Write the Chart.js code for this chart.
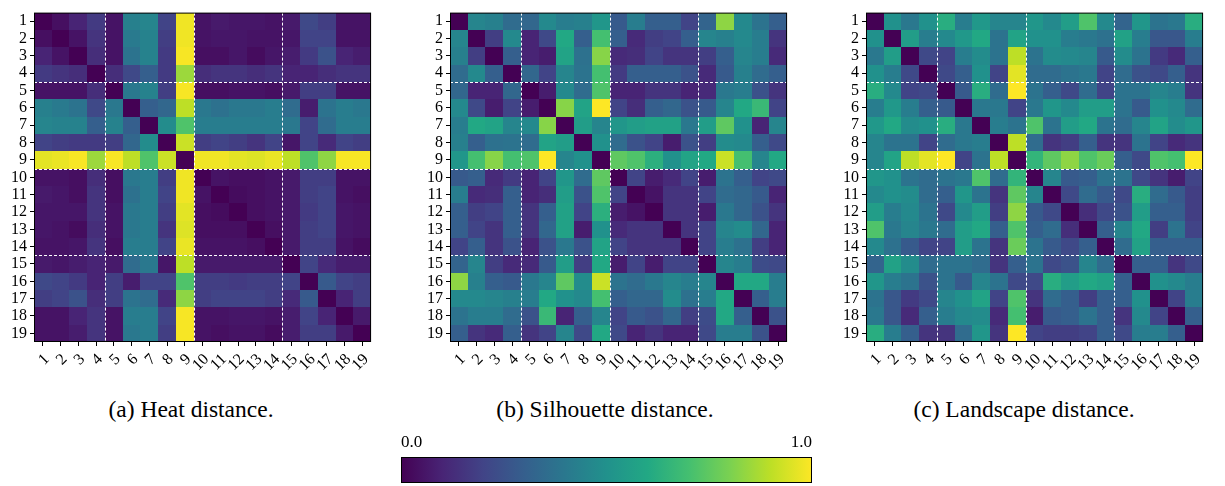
<!DOCTYPE html>
<html>
<head>
<meta charset="utf-8">
<script src="https://cdn.jsdelivr.net/npm/chart.js@4/dist/chart.umd.min.js"></script>
<style>
  html, body { margin: 0; padding: 0; background: #fff; }
  body { width: 1225px; height: 486px; position: relative; overflow: hidden; }
  canvas { position: absolute; }
  .cap { position: absolute; top: 397px; width: 300px; text-align: center;
         font: 23.5px/24px "Liberation Serif", "Times New Roman", serif; color: #000; }
</style>
</head>
<body>
<canvas id="heat" width="380" height="395" style="left:0;top:0"></canvas>
<canvas id="sil" width="380" height="395" style="left:416px;top:0"></canvas>
<canvas id="land" width="380" height="395" style="left:832px;top:0"></canvas>
<canvas id="cbar" width="422" height="56" style="left:396px;top:430px"></canvas>
<div class="cap" style="left:41px">(a) Heat distance.</div>
<div class="cap" style="left:455px">(b) Silhouette distance.</div>
<div class="cap" style="left:874px">(c) Landscape distance.</div>
<script>
// popisky os 1..19 (stejné pro řádky i sloupce)
const LABELS = ["1","2","3","4","5","6","7","8","9","10","11","12","13","14","15","16","17","18","19"];
// hranice skupin (bílé čárkované čáry)
const DIVIDERS = [4.5, 9.5, 14.5];
// colorbar
const CBAR_TICKS = [0, 1];
const CBAR_LABELS = ["0.0", "1.0"];
// viridis po 0.1
const VIRIDIS = ["#440154","#482475","#414487","#355f8d","#2a788e","#21918c",
                 "#22a884","#44bf70","#7ad151","#bddf26","#fde725"];

// (a) Heat distance
const HEAT = [
  [0,.04,.10,.17,.05,.43,.45,.20,.98,.05,.07,.06,.06,.05,.07,.22,.18,.05,.05],
  [.04,0,.05,.15,.05,.41,.44,.18,.98,.05,.06,.06,.05,.05,.06,.20,.20,.05,.05],
  [.10,.05,0,.13,.05,.38,.44,.17,.99,.04,.04,.06,.03,.06,.08,.17,.25,.10,.08],
  [.17,.15,.13,0,.13,.22,.30,.17,.85,.13,.15,.15,.13,.15,.10,.10,.13,.15,.15],
  [.05,.05,.05,.13,0,.40,.44,.18,.99,.04,.04,.05,.05,.04,.07,.18,.18,.05,.05],
  [.43,.41,.38,.22,.40,0,.30,.33,.90,.40,.37,.40,.40,.42,.35,.08,.38,.42,.40],
  [.45,.44,.44,.30,.44,.30,0,.48,.72,.42,.42,.42,.42,.42,.40,.20,.35,.42,.42],
  [.20,.18,.17,.17,.18,.33,.48,0,.92,.18,.20,.18,.15,.20,.06,.20,.12,.20,.18],
  [.96,.97,.99,.85,.99,.90,.72,.92,0,.98,.98,.96,.95,.97,.90,.72,.83,.99,.99],
  [.05,.05,.04,.13,.04,.40,.42,.18,.98,0,.05,.04,.04,.05,.07,.18,.18,.05,.05],
  [.07,.06,.04,.15,.04,.37,.42,.20,.98,.05,0,.03,.04,.05,.07,.18,.20,.05,.04],
  [.06,.06,.06,.15,.05,.40,.42,.18,.96,.04,.03,0,.04,.05,.07,.17,.20,.06,.05],
  [.06,.05,.03,.13,.05,.40,.42,.15,.95,.04,.04,.04,0,.04,.07,.18,.20,.06,.05],
  [.05,.05,.06,.15,.04,.42,.42,.20,.97,.05,.05,.05,.04,0,.07,.18,.18,.05,.03],
  [.07,.06,.08,.10,.07,.35,.40,.06,.90,.07,.07,.07,.07,.07,0,.20,.12,.08,.08],
  [.22,.20,.17,.10,.18,.08,.20,.20,.72,.18,.18,.17,.18,.18,.20,0,.28,.20,.18],
  [.18,.20,.25,.13,.18,.38,.35,.12,.83,.18,.20,.20,.20,.18,.12,.28,0,.10,.18],
  [.05,.05,.10,.15,.05,.42,.42,.20,.99,.05,.05,.06,.06,.05,.08,.20,.10,0,.07],
  [.05,.05,.08,.15,.05,.40,.42,.18,.99,.05,.04,.05,.05,.03,.08,.18,.18,.07,0],
];

// (b) Silhouette distance
const SILHOUETTE = [
  [0,.45,.43,.35,.33,.47,.42,.43,.52,.28,.42,.30,.30,.20,.32,.83,.47,.38,.30],
  [.45,0,.18,.47,.10,.22,.60,.30,.70,.30,.12,.18,.20,.30,.45,.43,.47,.42,.15],
  [.43,.18,0,.30,.10,.08,.58,.37,.82,.12,.13,.20,.15,.15,.18,.30,.45,.42,.12],
  [.35,.47,.30,0,.33,.20,.45,.38,.70,.17,.30,.30,.30,.25,.12,.28,.43,.35,.30],
  [.33,.10,.10,.33,0,.08,.47,.35,.72,.10,.10,.15,.15,.10,.12,.40,.42,.25,.15],
  [.47,.22,.08,.20,.08,0,.82,.58,1.0,.20,.13,.30,.33,.25,.28,.45,.60,.67,.20],
  [.42,.60,.58,.45,.47,.82,0,.55,.45,.52,.55,.57,.57,.40,.55,.75,.50,.10,.45],
  [.43,.30,.37,.38,.35,.58,.55,0,.50,.35,.25,.20,.08,.25,.18,.48,.47,.30,.22],
  [.52,.70,.82,.70,.72,1.0,.45,.50,0,.75,.72,.63,.50,.58,.60,.92,.70,.45,.60],
  [.28,.30,.12,.17,.10,.20,.52,.35,.75,0,.20,.08,.12,.20,.08,.38,.30,.20,.22],
  [.42,.12,.13,.30,.10,.13,.55,.25,.72,.20,0,.05,.15,.15,.20,.35,.33,.28,.10],
  [.30,.18,.20,.30,.15,.30,.57,.20,.63,.08,.05,0,.15,.15,.08,.40,.33,.25,.15],
  [.30,.20,.15,.30,.15,.33,.57,.08,.50,.12,.15,.15,0,.15,.20,.45,.48,.33,.10],
  [.20,.30,.15,.25,.10,.25,.40,.25,.58,.20,.15,.15,.15,0,.20,.42,.37,.18,.10],
  [.32,.45,.18,.12,.12,.28,.55,.18,.60,.08,.20,.08,.20,.20,0,.45,.42,.23,.22],
  [.83,.43,.30,.28,.40,.45,.75,.48,.92,.38,.35,.40,.45,.42,.45,0,.60,.60,.42],
  [.47,.47,.45,.43,.42,.60,.50,.47,.70,.30,.33,.33,.48,.37,.42,.60,0,.30,.42],
  [.38,.42,.42,.35,.25,.67,.10,.30,.45,.20,.28,.25,.33,.18,.23,.60,.30,0,.25],
  [.30,.15,.12,.30,.15,.20,.45,.22,.60,.22,.10,.15,.10,.10,.22,.42,.42,.25,0],
];

// (c) Landscape distance
const LANDSCAPE = [
  [0,.50,.40,.50,.62,.42,.53,.45,.45,.52,.47,.55,.72,.47,.32,.52,.38,.40,.62],
  [.50,0,.55,.42,.47,.53,.60,.38,.58,.50,.50,.42,.40,.37,.57,.42,.27,.27,.42],
  [.40,.55,0,.22,.20,.42,.48,.38,.90,.38,.48,.47,.45,.28,.48,.38,.17,.12,.30],
  [.50,.42,.22,0,.22,.30,.50,.20,.96,.35,.35,.38,.40,.20,.35,.25,.22,.30,.15],
  [.62,.47,.20,.22,0,.28,.62,.35,1.0,.38,.30,.22,.35,.20,.38,.38,.45,.42,.15],
  [.42,.53,.42,.30,.28,0,.40,.40,.20,.40,.52,.47,.55,.55,.38,.28,.50,.47,.35],
  [.53,.60,.48,.50,.62,.40,0,.42,.38,.72,.38,.55,.60,.38,.35,.45,.58,.48,.52],
  [.45,.38,.38,.20,.35,.40,.42,0,.90,.35,.15,.18,.30,.15,.15,.38,.20,.12,.15],
  [.45,.58,.90,.96,1.0,.20,.38,.90,0,.65,.75,.83,.72,.77,.30,.22,.72,.70,1.0],
  [.52,.50,.38,.35,.38,.40,.72,.35,.65,0,.45,.28,.30,.38,.38,.22,.15,.08,.20],
  [.47,.50,.48,.35,.30,.52,.38,.15,.75,.45,0,.22,.35,.28,.22,.62,.35,.28,.18],
  [.55,.42,.47,.38,.22,.47,.55,.18,.83,.28,.22,0,.13,.22,.25,.55,.30,.30,.18],
  [.72,.40,.45,.40,.35,.55,.60,.30,.72,.30,.35,.13,0,.30,.45,.60,.18,.38,.20],
  [.47,.37,.28,.20,.20,.55,.38,.15,.77,.38,.28,.22,.30,0,.35,.57,.30,.30,.30],
  [.32,.57,.48,.35,.38,.38,.35,.15,.30,.38,.22,.25,.45,.35,0,.30,.30,.15,.22],
  [.52,.42,.38,.25,.38,.28,.45,.38,.22,.22,.62,.55,.60,.57,.30,0,.50,.47,.42],
  [.38,.27,.17,.22,.45,.50,.58,.20,.72,.15,.35,.30,.18,.30,.30,.50,0,.20,.42],
  [.40,.27,.12,.30,.42,.47,.48,.12,.70,.08,.28,.30,.38,.30,.15,.47,.20,0,.30],
  [.62,.42,.30,.15,.15,.35,.52,.15,1.0,.20,.18,.18,.20,.30,.22,.42,.42,.30,0],
];

const SERIF = "'Liberation Serif', 'Times New Roman', serif";

// hodnota 0..1 -> barva viridis
function hexRgb(h) { return [1, 3, 5].map(i => parseInt(h.slice(i, i + 2), 16)); }
function viridis(t) {
  t = Math.min(1, Math.max(0, t)) * (VIRIDIS.length - 1);
  const i = Math.min(Math.floor(t), VIRIDIS.length - 2), f = t - i;
  const a = hexRgb(VIRIDIS[i]), b = hexRgb(VIRIDIS[i + 1]);
  return "rgb(" + a.map((v, k) => Math.round(v + (b[k] - v) * f)).join(",") + ")";
}

// buňky, čárkované čáry a rámeček — vše přes škály grafu
const heatPlugin = {
  id: "heatCells",
  beforeDatasetsDraw(chart) {
    const { ctx, chartArea: a, scales: { x, y } } = chart;
    ctx.save();
    chart.data.datasets[0].data.forEach(p => {
      const x0 = Math.round(x.getPixelForValue(p.x - 0.5)), x1 = Math.round(x.getPixelForValue(p.x + 0.5));
      const y0 = Math.round(y.getPixelForValue(p.y - 0.5)), y1 = Math.round(y.getPixelForValue(p.y + 0.5));
      ctx.fillStyle = viridis(p.v);
      ctx.fillRect(Math.min(x0, x1), Math.min(y0, y1), Math.abs(x1 - x0), Math.abs(y1 - y0));
    });
    ctx.strokeStyle = "#fff"; ctx.lineWidth = 1; ctx.setLineDash([3, 2]);
    DIVIDERS.forEach(d => {
      const px = Math.round(x.getPixelForValue(d)) + 0.5, py = Math.round(y.getPixelForValue(d)) + 0.5;
      ctx.beginPath(); ctx.moveTo(px, a.top); ctx.lineTo(px, a.bottom); ctx.stroke();
      ctx.beginPath(); ctx.moveTo(a.left, py); ctx.lineTo(a.right, py); ctx.stroke();
    });
    ctx.setLineDash([]);
    ctx.strokeStyle = "#000";
    ctx.strokeRect(a.left + 0.5, a.top + 0.5, a.right - a.left - 1, a.bottom - a.top - 1);
    ctx.restore();
  },
};

function osa(extra) {
  return Object.assign({
    type: "linear", min: 0.5, max: 19.5,
    afterBuildTicks: s => { s.ticks = LABELS.map((_, i) => ({ value: i + 1 })); },
    grid: { drawOnChartArea: false, drawTicks: true, tickLength: 4, color: "#000", lineWidth: 1 },
    border: { display: false },
  }, extra);
}

function heatmap(id, matrix) {
  const pts = [];
  matrix.forEach((row, r) => row.forEach((v, c) => pts.push({ x: c + 1, y: r + 1, v })));
  new Chart(document.getElementById(id), {
    type: "scatter",
    data: { datasets: [{ data: pts, pointRadius: 0, pointHoverRadius: 0 }] },
    options: {
      responsive: false, animation: false, events: [],
      layout: { padding: { top: 3, right: 8, left: 0, bottom: 0 } },
      plugins: { legend: { display: false }, tooltip: { enabled: false } },
      scales: {
        x: osa({
          afterFit: s => { s.height = 53; },
          ticks: { autoSkip: false, minRotation: 45, maxRotation: 45, labelOffset: 4, padding: 4,
                   color: "#000", font: { family: SERIF, size: 16 },
                   callback: (v, i) => LABELS[i] },
        }),
        y: osa({
          reverse: true,
          afterFit: s => { s.width = 34; },
          ticks: { autoSkip: false, padding: 3, color: "#000", font: { family: SERIF, size: 16 },
                   callback: (v, i) => LABELS[i] },
        }),
      },
    },
    plugins: [heatPlugin],
  });
}

heatmap("heat", HEAT);
heatmap("sil", SILHOUETTE);
heatmap("land", LANDSCAPE);

// colorbar
new Chart(document.getElementById("cbar"), {
  type: "scatter",
  data: { datasets: [{ data: [], pointRadius: 0 }] },
  options: {
    responsive: false, animation: false, events: [],
    layout: { padding: { top: 0, right: 6, left: 5, bottom: 3 } },
    plugins: { legend: { display: false }, tooltip: { enabled: false } },
    scales: {
      x: {
        type: "linear", position: "top", min: 0, max: 1,
        afterBuildTicks: s => { s.ticks = CBAR_TICKS.map(v => ({ value: v })); },
        afterFit: s => { s.height = 27; },
        grid: { display: false, drawTicks: false }, border: { display: false },
        ticks: { align: "inner", padding: 4, maxRotation: 0, color: "#000",
                 font: { family: SERIF, size: 17 }, callback: (v, i) => CBAR_LABELS[i] },
      },
      y: { display: false, min: 0, max: 1 },
    },
  },
  plugins: [{
    id: "cbarFill",
    beforeDatasetsDraw(chart) {
      const { ctx, chartArea: a, scales: { x } } = chart;
      const g = ctx.createLinearGradient(x.getPixelForValue(0), 0, x.getPixelForValue(1), 0);
      VIRIDIS.forEach((c, i) => g.addColorStop(i / (VIRIDIS.length - 1), c));
      ctx.save();
      ctx.fillStyle = g;
      ctx.fillRect(a.left, a.top, a.right - a.left, a.bottom - a.top);
      ctx.strokeStyle = "#000"; ctx.lineWidth = 1;
      ctx.strokeRect(a.left + 0.5, a.top + 0.5, a.right - a.left - 1, a.bottom - a.top - 1);
      ctx.restore();
    },
  }],
});
</script>
</body>
</html>
